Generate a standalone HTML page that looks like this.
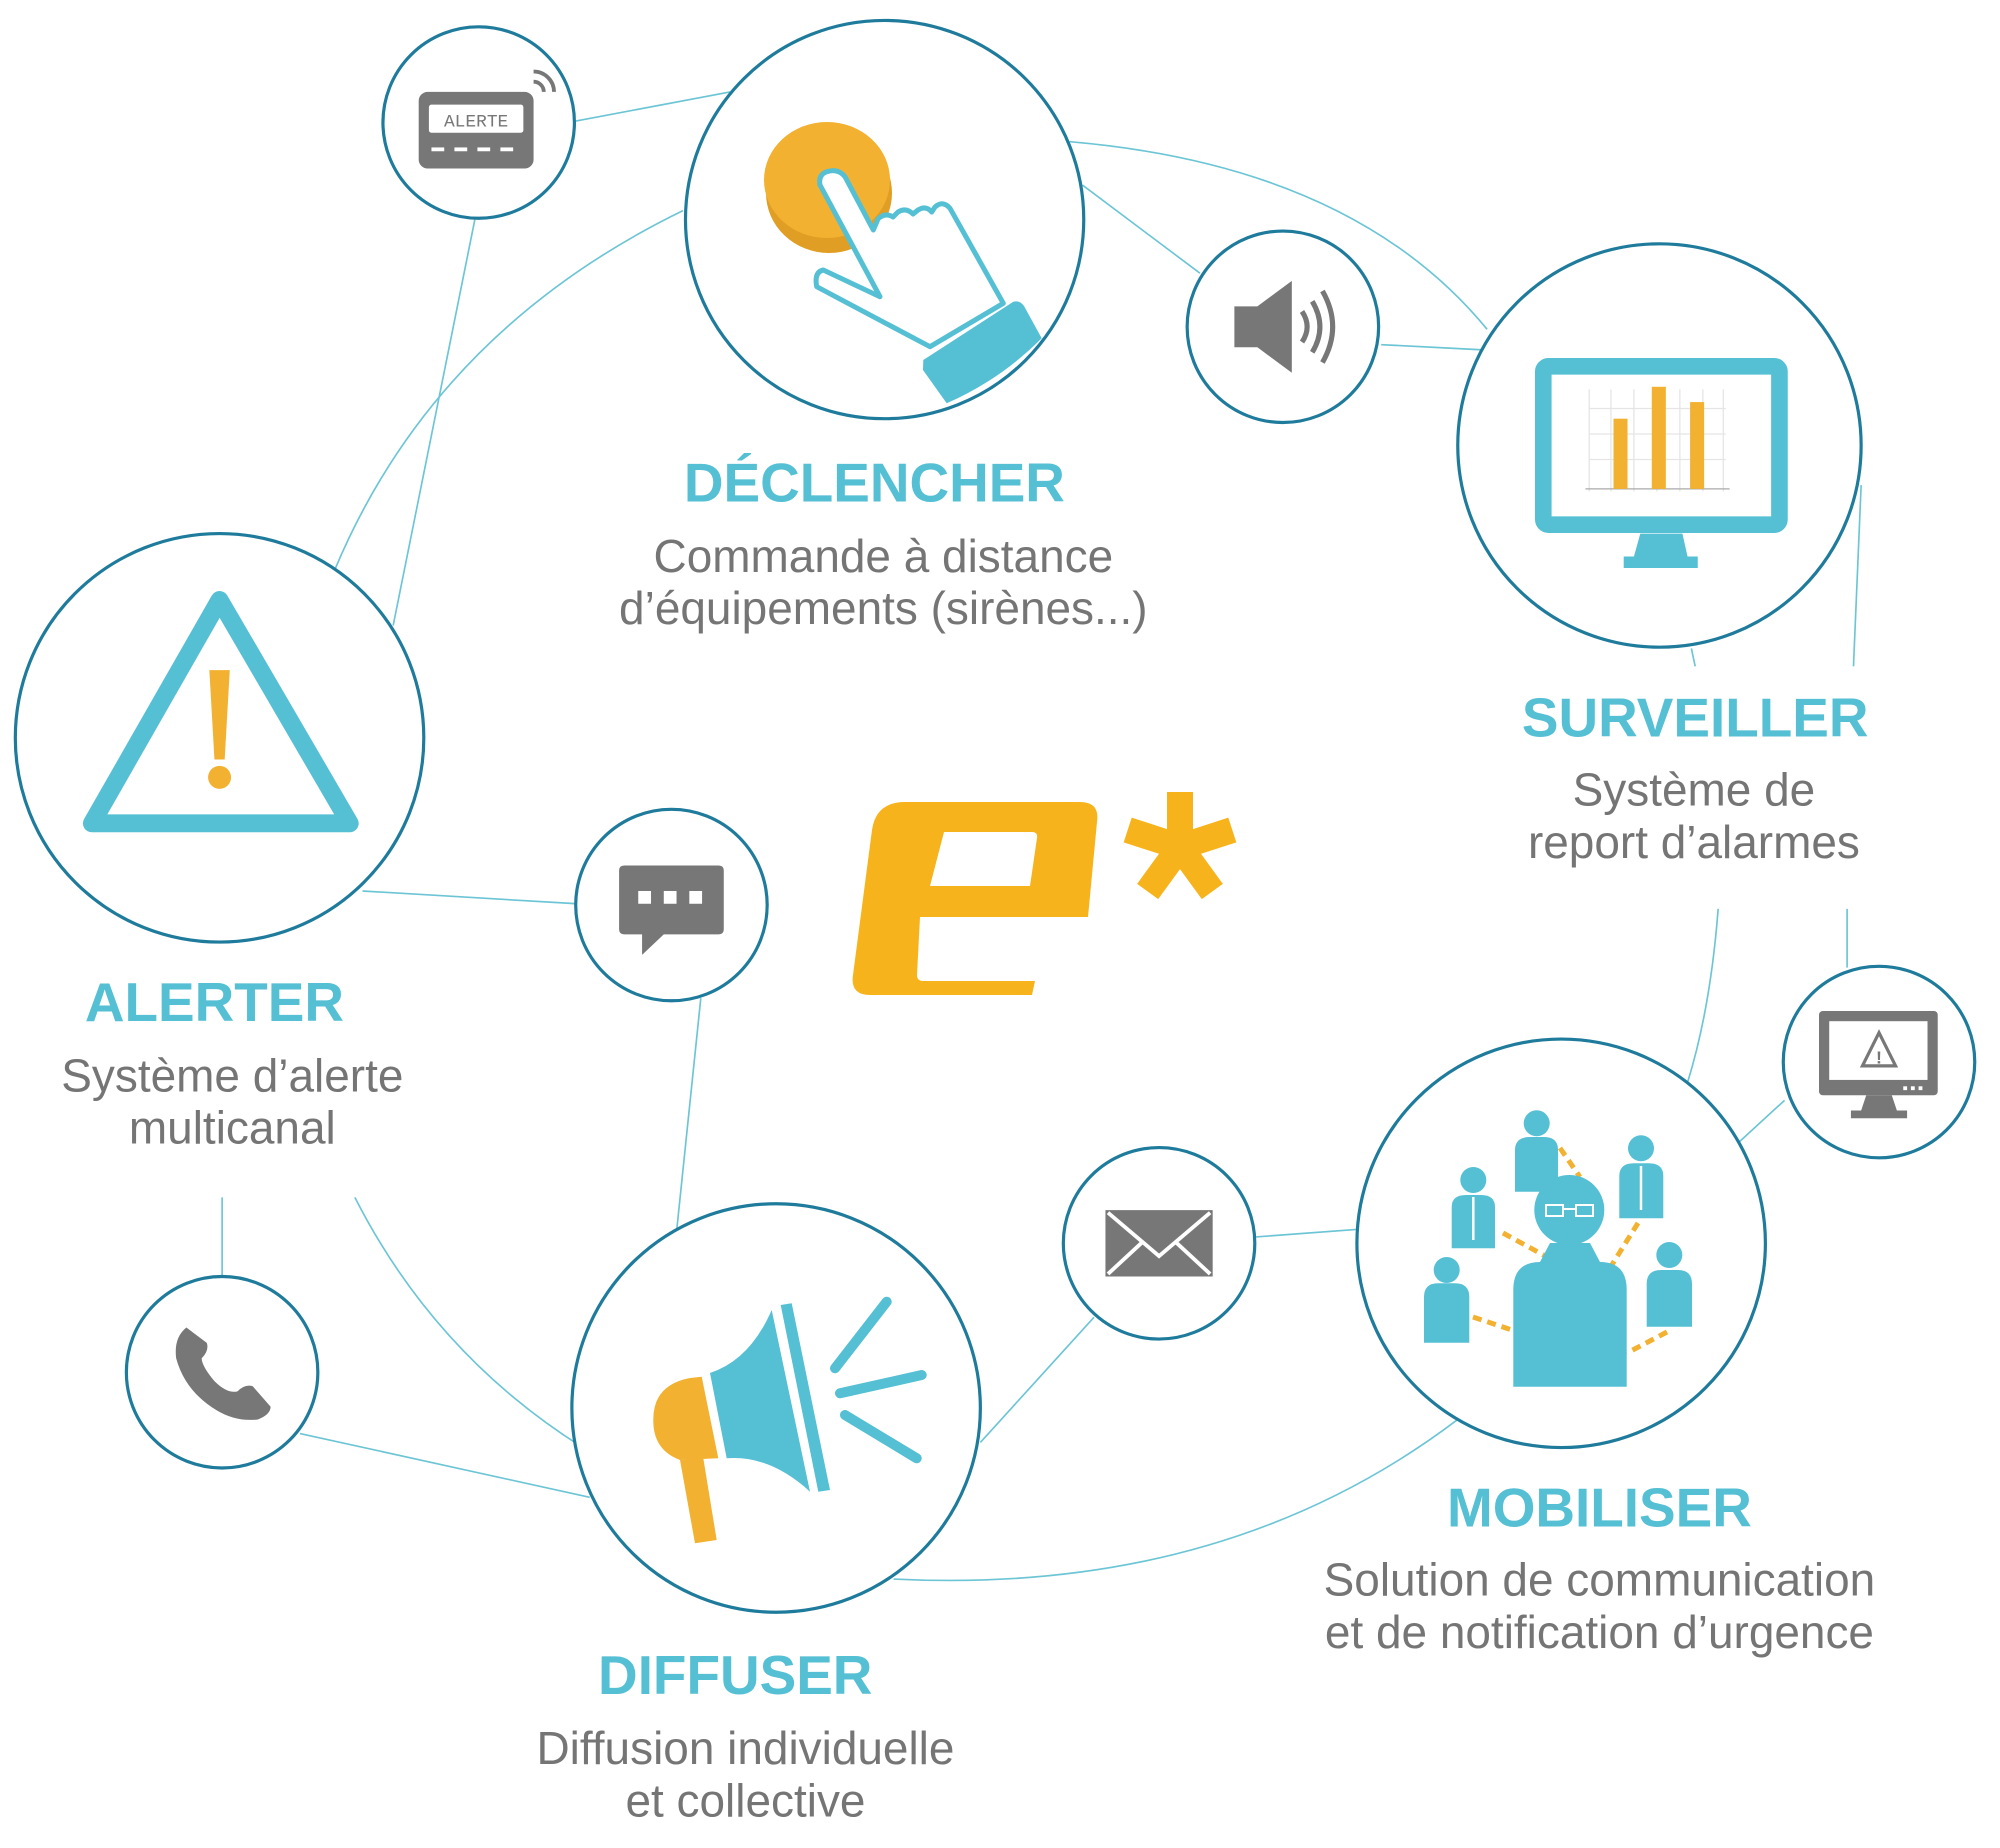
<!DOCTYPE html>
<html><head><meta charset="utf-8"><style>
html,body{margin:0;padding:0;background:#fff;}
svg{display:block;}
.t{font-family:"Liberation Sans",sans-serif;font-weight:bold;fill:#55bfd4;font-size:43px;text-anchor:middle;}
.b{font-family:"Liberation Sans",sans-serif;fill:#757575;font-size:36px;text-anchor:middle;}
</style></head><body>
<svg width="2000" height="1848" viewBox="0 0 2000 1848" xmlns="http://www.w3.org/2000/svg">
<g transform="scale(1.2765)">
<g fill="none" stroke="#6cc5d5" stroke-width="1.3">
<line x1="450" y1="95" x2="572" y2="72"/>
<line x1="372" y1="172" x2="308" y2="490"/>
<path d="M535 165 Q340 260 262 447"/>
<line x1="848" y1="145" x2="940" y2="214"/>
<path d="M838 111 Q1060 130 1165 258"/>
<line x1="1082" y1="270" x2="1160" y2="274"/>
<line x1="1458" y1="380" x2="1452" y2="522"/>
<line x1="1325" y1="508" x2="1328" y2="522"/>
<path d="M1346 712 Q1340 790 1322 848"/>
<line x1="1447" y1="712" x2="1447" y2="758"/>
<line x1="1398" y1="862" x2="1362" y2="895"/>
<line x1="284" y1="698" x2="452" y2="708"/>
<line x1="549" y1="782" x2="530" y2="965"/>
<path d="M278 938 Q340 1060 455 1133"/>
<line x1="174" y1="938" x2="174" y2="1000"/>
<line x1="235" y1="1123" x2="462" y2="1173"/>
<line x1="857" y1="1032" x2="768" y2="1130"/>
<line x1="984" y1="969" x2="1064" y2="963"/>
<path d="M1142 1112 Q960 1250 700 1237"/>
</g>
<g fill="#fff" stroke="#1f7b9c" stroke-width="2.5">
<circle cx="375" cy="96" r="75"/>
<circle cx="693" cy="172" r="156"/>
<circle cx="1005" cy="256" r="75"/>
<circle cx="1300" cy="349" r="158"/>
<circle cx="172" cy="578" r="160"/>
<circle cx="526" cy="709" r="75"/>
<circle cx="1472" cy="832" r="75"/>
<circle cx="908" cy="974" r="75"/>
<circle cx="1223" cy="974" r="160"/>
<circle cx="174" cy="1075" r="75"/>
<circle cx="608" cy="1103" r="160"/>
</g>
<!-- pager -->
<rect x="328" y="72" width="90" height="60" rx="7" fill="#777"/>
<rect x="336" y="82" width="74" height="22" rx="2" fill="#fff"/>
<text x="373" y="99" font-family="Liberation Mono,monospace" font-size="14" fill="#777" text-anchor="middle">ALERTE</text>
<g stroke="#fff" stroke-width="3"><line x1="338" y1="117" x2="348" y2="117"/><line x1="356" y1="117" x2="366" y2="117"/><line x1="374" y1="117" x2="384" y2="117"/><line x1="392" y1="117" x2="402" y2="117"/></g>
<g fill="none" stroke="#777" stroke-width="3"><path d="M418 64 A8 8 0 0 1 426 72"/><path d="M418 56 A16 16 0 0 1 434 72"/></g>
<!-- speaker -->
<path d="M967 240 H985 L1012 220 V292 L985 272 H967 Z" fill="#777"/>
<g fill="none" stroke="#777" stroke-width="4"><path d="M1020 244 Q1028 256 1020 268"/><path d="M1028 236 Q1040 256 1028 276"/><path d="M1036 228 Q1052 256 1036 284"/></g>
<!-- monitor chart -->
<rect x="1209" y="287" width="185" height="124" rx="4" fill="none" stroke="#55bfd4" stroke-width="13"/>
<path d="M1285 418 H1318 L1322 436 H1330 V445 H1272 V436 H1280 Z" fill="#55bfd4"/>
<g stroke="#e5e5e5" stroke-width="1"><line x1="1245" y1="305" x2="1245" y2="385"/><line x1="1262" y1="305" x2="1262" y2="385"/><line x1="1280" y1="305" x2="1280" y2="385"/><line x1="1298" y1="305" x2="1298" y2="385"/><line x1="1316" y1="305" x2="1316" y2="385"/><line x1="1334" y1="305" x2="1334" y2="385"/><line x1="1350" y1="305" x2="1350" y2="385"/><line x1="1245" y1="320" x2="1352" y2="320"/><line x1="1245" y1="340" x2="1352" y2="340"/><line x1="1245" y1="360" x2="1352" y2="360"/></g>
<line x1="1242" y1="383" x2="1355" y2="383" stroke="#aaa"/>
<g fill="#f2b131"><rect x="1264" y="328" width="11" height="55"/><rect x="1294" y="303" width="11" height="80"/><rect x="1324" y="315" width="11" height="68"/></g>
<!-- warning -->
<path d="M172 470 L72 645 H274 Z" fill="none" stroke="#55bfd4" stroke-width="14" stroke-linejoin="round"/>
<path d="M164 525 H180 L176 595 H168 Z" fill="#f2b131"/><circle cx="172" cy="609" r="9" fill="#f2b131"/>
<!-- chat -->
<path d="M489 678 H563 Q567 678 567 682 V728 Q567 732 563 732 H520 L503 748 V732 H489 Q485 732 485 728 V682 Q485 678 489 678 Z" fill="#777"/>
<g fill="#fff"><rect x="500" y="698" width="10" height="10"/><rect x="520" y="698" width="10" height="10"/><rect x="540" y="698" width="10" height="10"/></g>
<!-- monitor alert -->
<rect x="1425" y="792" width="93" height="66" rx="3" fill="#777"/>
<rect x="1433" y="800" width="77" height="46" fill="#fff"/>
<path d="M1472 809 L1459 835 H1485 Z" fill="none" stroke="#777" stroke-width="2.5"/>
<text x="1472" y="833" font-family="Liberation Sans,sans-serif" font-size="14" font-weight="bold" fill="#777" text-anchor="middle">!</text>
<path d="M1462 858 H1482 L1486 870 H1494 V876 H1450 V870 H1458 Z" fill="#777"/>
<g fill="#fff"><rect x="1491" y="851" width="3" height="3"/><rect x="1497" y="851" width="3" height="3"/><rect x="1503" y="851" width="3" height="3"/></g>
<!-- mail -->
<rect x="866" y="948" width="84" height="52" fill="#777"/>
<g fill="none" stroke="#fff" stroke-width="3"><path d="M868 950 L908 984 L948 950"/><path d="M868 998 L895 973"/><path d="M948 998 L921 973"/></g>
<!-- phone -->
<path d="M146 1040 Q136 1048 138 1064 Q145 1090 170 1105 Q185 1114 202 1112 Q212 1108 212 1102 L198 1086 Q192 1084 186 1090 Q178 1092 168 1082 Q158 1070 158 1064 Q164 1058 162 1052 Z" fill="#777"/>
<!-- text -->
<text class="t" x="685" y="393">DÉCLENCHER</text>
<text class="b" x="692" y="448">Commande à distance</text>
<text class="b" x="692" y="489">d’équipements (sirènes...)</text>
<text class="t" x="1328" y="577">SURVEILLER</text>
<text class="b" x="1327" y="631">Système de</text>
<text class="b" x="1327" y="672">report d’alarmes</text>
<text class="t" x="168" y="800">ALERTER</text>
<text class="b" x="182" y="855">Système d’alerte</text>
<text class="b" x="182" y="896">multicanal</text>
<text class="t" x="576" y="1327">DIFFUSER</text>
<text class="b" x="584" y="1382">Diffusion individuelle</text>
<text class="b" x="584" y="1423">et collective</text>
<text class="t" x="1253" y="1196">MOBILISER</text>
<text class="b" x="1253" y="1250">Solution de communication</text>
<text class="b" x="1253" y="1291">et de notification d’urgence</text>
</g>
<!-- logo -->
<path fill-rule="evenodd" fill="#f7b31b" d="M905 802 H1080 Q1100 802 1097 822 L1088 917 H920 L917 975 Q917 981 923 981 H1035 L1032 995 H870 Q850 995 853 975 L872 830 Q876 802 905 802 Z M944 832 H1032 Q1038 832 1037 838 L1030 886 H930 Z"/>
<g fill="#f7b31b" transform="translate(1180 847)">
<rect x="-13" y="-55" width="26" height="52"/>
<rect x="-13" y="-55" width="26" height="52" transform="rotate(72)"/>
<rect x="-13" y="-55" width="26" height="52" transform="rotate(144)"/>
<rect x="-13" y="-55" width="26" height="52" transform="rotate(216)"/>
<rect x="-13" y="-55" width="26" height="52" transform="rotate(288)"/>
<circle r="16"/>
</g>
<!-- button & hand -->
<ellipse cx="829" cy="193" rx="63" ry="60" fill="#e19e24"/>
<ellipse cx="827" cy="180" rx="63" ry="58" fill="#f2b131"/>
<path d="M826.7 171.7 Q818 175 820 185 L880 296.7 L823.3 270 Q814 272 816.7 286.7 L930 346.7 L1003.3 303.3 L950 208.3 Q943 200 935 207 L931.7 212 Q926 205 918 210 L913 214 Q906 207 898 212 L893 217 Q885 212 878 219 L873.3 230 L845 176.7 Q838 168 826.7 171.7 Z" fill="#fff" stroke="#55bfd4" stroke-width="5" stroke-linejoin="round"/>
<path d="M923.3 360 L1013.3 301.7 Q1020 300 1024 306 L1041.7 338.3 Q1000 380 946.7 403.3 L923 370 Z" fill="#55bfd4"/>
<!-- megaphone -->
<path d="M710 1373 Q750 1360 771.7 1310 L810 1491.7 Q770 1455 726.7 1458.3 Z" fill="#55bfd4"/>
<path d="M780.7 1305 L791.7 1303.3 L830 1490 L818.3 1491.7 Z" fill="#55bfd4"/>
<path d="M701.7 1376.7 L718.3 1458.3 L680 1460 Q653 1450 653.3 1420 Q653 1385 690 1378 Z" fill="#f2b131"/>
<path d="M680 1460 L703.3 1458.3 L716.7 1540 L695 1543.3 Z" fill="#f2b131"/>
<g stroke="#55bfd4" stroke-width="10" stroke-linecap="round"><line x1="886.7" y1="1301.7" x2="835" y2="1368.3"/><line x1="921.7" y1="1375" x2="840" y2="1393.3"/><line x1="845" y1="1415" x2="916.7" y2="1458.3"/></g>
<!-- people -->
<g stroke="#f2b131" stroke-width="5" stroke-dasharray="9 6"><line x1="1560" y1="1148" x2="1580" y2="1177"/><line x1="1503" y1="1233" x2="1547" y2="1257"/><line x1="1638" y1="1223" x2="1610" y2="1268"/><line x1="1473" y1="1317" x2="1512" y2="1330"/><line x1="1667" y1="1332" x2="1627" y2="1353"/></g>
<g fill="#55bfd4">
<circle cx="1536.7" cy="1123.3" r="13"/><path d="M1515 1191.7 V1150 Q1515 1137 1530 1137 H1544 Q1558 1137 1558 1150 V1191.7 Z"/>
<circle cx="1473.3" cy="1180" r="13"/><path d="M1451.7 1248.3 V1207 Q1451.7 1195 1466 1195 H1481 Q1495 1195 1495 1207 V1248.3 Z"/>
<circle cx="1641" cy="1148.3" r="13"/><path d="M1619.3 1218.3 V1176 Q1619.3 1163.3 1634 1163.3 H1649 Q1663.3 1163.3 1663.3 1176 V1218.3 Z"/>
<circle cx="1446.7" cy="1270" r="13"/><path d="M1424 1342.7 V1297 Q1424 1283.3 1438 1283.3 H1455 Q1469.3 1283.3 1469.3 1297 V1342.7 Z"/>
<circle cx="1669.3" cy="1255" r="13"/><path d="M1646.7 1326.7 V1284 Q1646.7 1270 1661 1270 H1678 Q1692 1270 1692 1284 V1326.7 Z"/>
<circle cx="1569.3" cy="1210" r="35"/><path d="M1513.3 1386.7 V1290 Q1513.3 1262 1540 1262 L1550 1243 H1590 L1600 1262 Q1626.7 1262 1626.7 1290 V1386.7 Z"/>
</g>
<g stroke="#fff" stroke-width="2" fill="none"><rect x="1546" y="1205" width="17" height="11"/><rect x="1576" y="1205" width="17" height="11"/><line x1="1563" y1="1209" x2="1576" y2="1209"/></g>
<g stroke="#fff" stroke-width="2.5"><line x1="1473.3" y1="1197" x2="1473.3" y2="1240"/><line x1="1641" y1="1166" x2="1641" y2="1210"/></g>
</svg>
</body></html>
